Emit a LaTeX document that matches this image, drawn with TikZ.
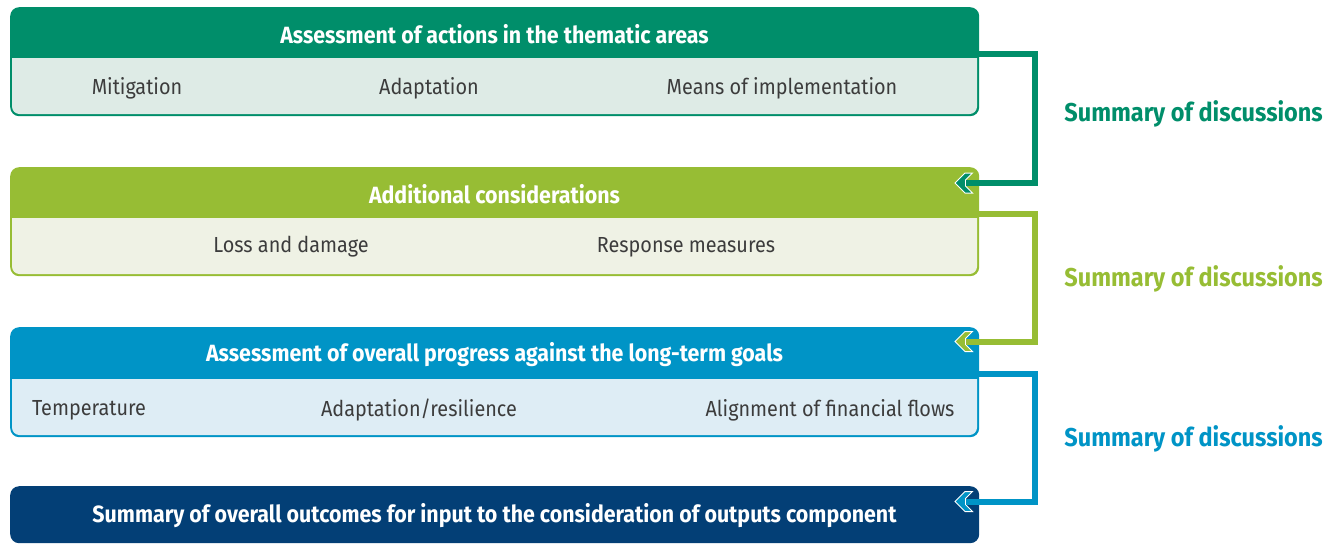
\documentclass[tikz,border=0pt]{standalone}
\usepackage{fontspec}
\setmainfont[FakeStretch=0.91]{Fira Sans}
\usetikzlibrary{calc}
\definecolor{cgreen}{HTML}{008E6A}
\definecolor{colive}{HTML}{97BD34}
\definecolor{cblue}{HTML}{0094C6}
\definecolor{cnavy}{HTML}{033F76}
\definecolor{fgreen}{HTML}{DEEBE6}
\definecolor{folive}{HTML}{EFF2E5}
\definecolor{fblue}{HTML}{DEEDF5}
\definecolor{ctext}{HTML}{3C3C3C}
\tikzset{
  panel/.style={rounded corners=9pt, anchor=north west, inner sep=0pt, minimum width=969pt},
  hdrtext/.style={text=white, font=\bfseries\fontsize{23.5}{25}\selectfont, inner sep=0pt},
  itemtext/.style={text=ctext, font=\fontsize{21.8}{24}\selectfont, inner sep=0pt},
  sidetext/.style={font=\bfseries\fontsize{25.8}{28}\selectfont, inner sep=0pt, anchor=east},
  conn/.style={line width=6pt},
}
% one panel: name, top, header bottom, bottom, header colour, body colour
\newcommand\panelbox[6]{%
  \node[panel, fill=#5, minimum height=#4pt-#2pt] (#1) at (10,#2) {};
  \fill[#6, rounded corners=7.5pt] (12,#3) -- (12,#4-2) -- (977,#4-2) [sharp corners] -- (977,#3) -- cycle;
  \fill[#5] (10,#3-0.5) rectangle (979,#3+1);
}
% arrow head with a white rim at the end of a connector
\newcommand\arrowhead[2]{%
  \filldraw[fill=#2, draw=white, line width=1pt, line join=miter]
    (#1) -- ++(10,-10) -- ++(7.5,0) -- ++(-7,7) -- ++(0,6) -- ++(7,7) -- ++(-7.5,0) -- cycle;
}
\begin{document}
\begin{tikzpicture}[x=1pt,y=-1pt]
\useasboundingbox (0,0) rectangle (1341,544);

% panels
\panelbox{p1}{7}{57}{116}{cgreen}{fgreen}
\panelbox{p2}{167}{217}{276}{colive}{folive}
\panelbox{p3}{327}{378}{437}{cblue}{fblue}
\node[panel, fill=cnavy, minimum height=57pt] (p4) at (10,486) {};

% headers
\node[hdrtext] (h1) at (494.5,34) {Assessment of actions in the thematic areas};
\node[hdrtext] (h2) at (494.5,194) {Additional considerations};
\node[hdrtext] (h3) at (494.5,355) {Assessment of overall progress against the long-term goals};
\node[hdrtext] (h4) at (494.5,516) {Summary of overall outcomes for input to the consideration of outputs component};

% items
\node[itemtext] (m1) at (137,88) {Mitigation};
\node[itemtext] (m2) at (429,88) {Adaptation};
\node[itemtext] (m3) at (782,88) {Means of implementation};
\node[itemtext] (l1) at (291,247) {Loss and damage};
\node[itemtext] (l2) at (686,247) {Response measures};
\node[itemtext] (g1) at (89,410) {Temperature};
\node[itemtext] (g2) at (419,410) {Adaptation/resilience};
\node[itemtext] (g3) at (830,410) {Alignment of financial flows};

% side labels
\node[sidetext, text=cgreen] (s1) at (1323,114) {Summary of discussions};
\node[sidetext, text=colive] (s2) at (1323,279) {Summary of discussions};
\node[sidetext, text=cblue] (s3) at (1323,439) {Summary of discussions};

% connectors
\coordinate (a1) at (955,183);
\coordinate (a2) at (955,341.5);
\coordinate (a3) at (955,501.5);
\arrowhead{a1}{cgreen}
\draw[conn, cgreen] (p1.east |- 0,53.5) -- (1035,53.5) |- ([xshift=10.5pt]a1);
\arrowhead{a2}{colive}
\draw[conn, colive] (p2.east |- 0,213.5) -- (1035,213.5) |- ([xshift=10.5pt]a2);
\arrowhead{a3}{cblue}
\draw[conn, cblue] (p3.east |- 0,373.5) -- (1035,373.5) |- ([xshift=10.5pt]a3);
\end{tikzpicture}
\end{document}
